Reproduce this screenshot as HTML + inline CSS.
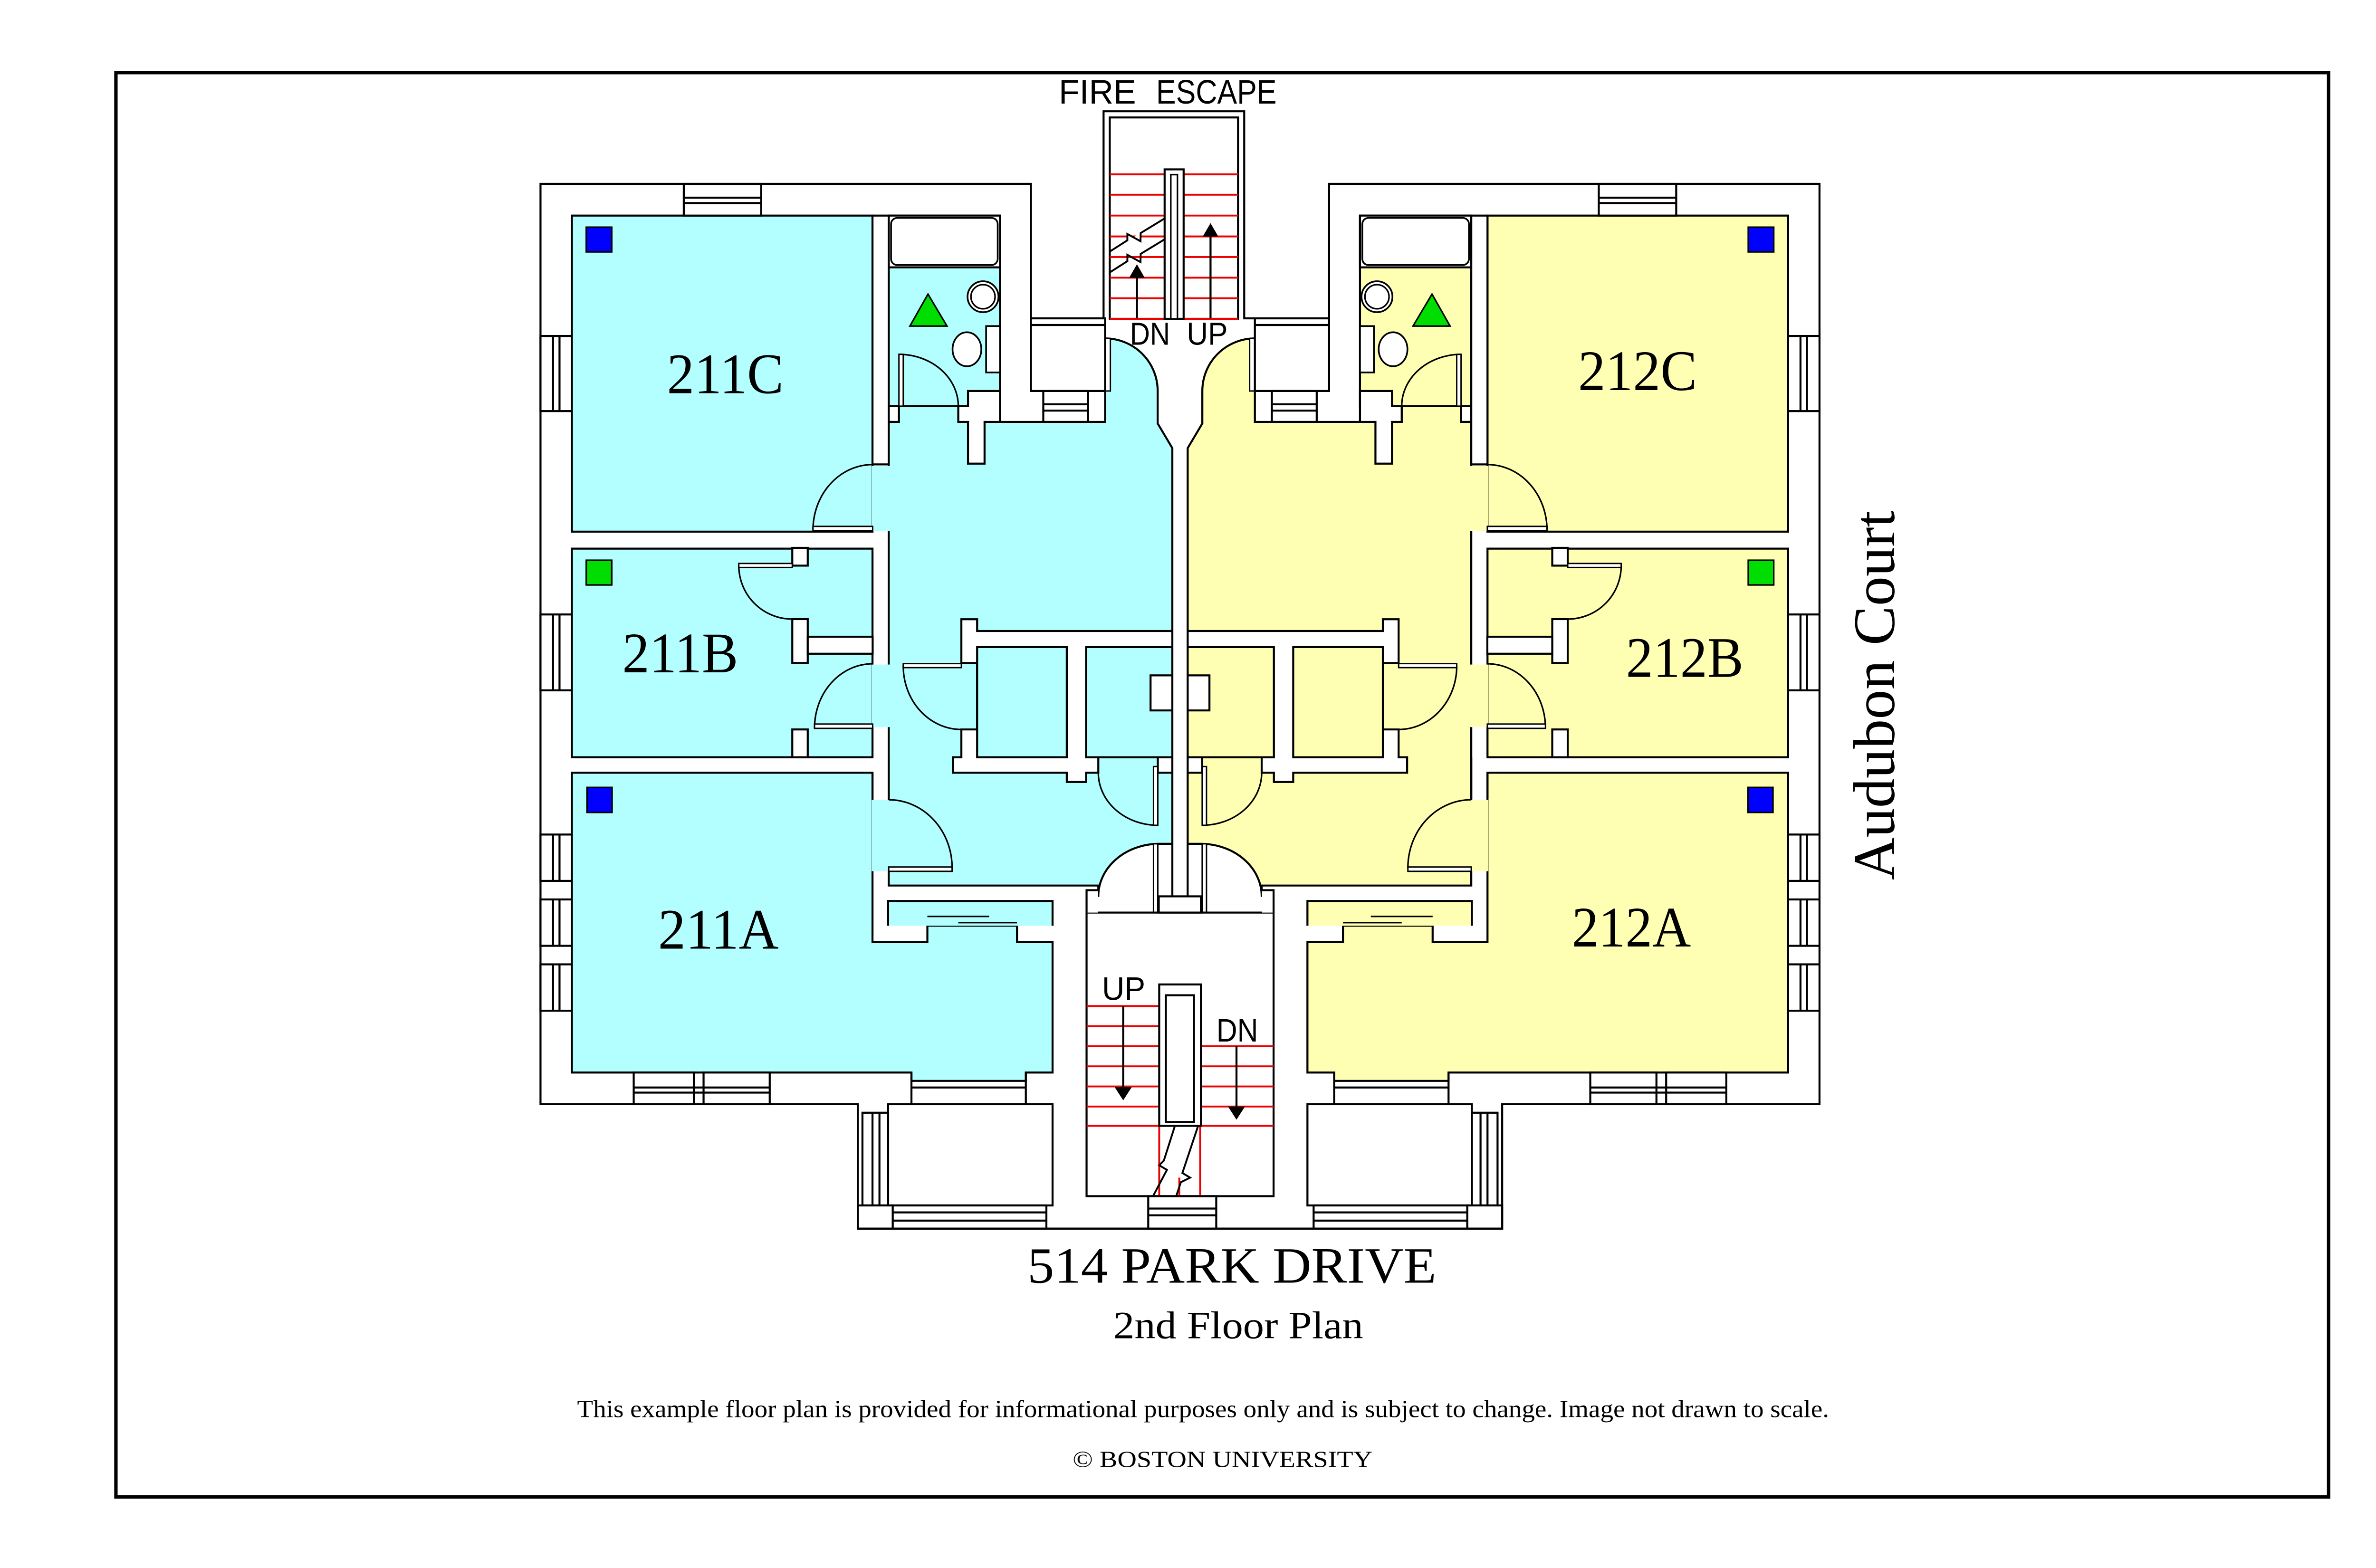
<!DOCTYPE html>
<html><head><meta charset="utf-8"><style>
html,body{margin:0;padding:0;background:#fff;}
svg{display:block;}
</style></head><body>
<svg xmlns="http://www.w3.org/2000/svg" xmlns:xlink="http://www.w3.org/1999/xlink" width="5100" height="3300" viewBox="0 0 1568 1014.6" preserveAspectRatio="none">
<defs>
<g id="unit" stroke="#000" stroke-width="1.3" stroke-linejoin="miter">
  <path fill="currentColor" d="M575,262.8 L620,262.8 L620,273 L715,273 L715,219 A34,34 0 0 1 749,253 L749,274 L758.5,290 L758.5,546 L749.1,546 A39.5,34 0 0 0 710.6,580.4 L710.6,573 L575,573 Z"/>
  <rect x="370" y="139.5" width="194.5" height="204.5" fill="currentColor"/>
  <rect x="370" y="355" width="194.5" height="135" fill="currentColor"/>
  <path fill="currentColor" d="M370,500 L564.5,500 L564.5,609.6 L600,609.6 L600,599 L658,599 L658,609.6 L681,609.6 L681,694 L663.7,694 L663.7,699.4 L589.7,699.4 L589.7,694 L370,694 Z"/>
  <path fill="currentColor" d="M574.6,599 L574.6,583 L681,583 L681,599"/>
  <line x1="600" y1="593" x2="640" y2="593" stroke-width="1"/>
  <line x1="620" y1="597" x2="658" y2="597" stroke-width="1"/>
  <rect x="575" y="139.5" width="72" height="123.3" fill="currentColor"/>
  <rect x="575" y="139.5" width="72" height="33.5" fill="#fff"/>
  <rect x="576.5" y="141" width="69" height="30.5" rx="4" fill="#fff" stroke-width="1.1"/>
  <circle cx="636" cy="192" r="10" fill="#fff" stroke-width="1.1"/>
  <circle cx="636" cy="192" r="7.8" fill="#fff" stroke-width="1"/>
  <ellipse cx="625.6" cy="226" rx="9.3" ry="11" fill="#fff" stroke-width="1.1"/>
  <rect x="638" y="211" width="9" height="30" fill="#fff" stroke-width="1.1"/>
  <polygon points="600.4,190.3 612.7,211 588.7,211" fill="#00dd00" stroke-width="1"/>
  <polygon fill="#fff" points="620,262.8 626.3,262.8 626.3,253 647,253 647,273 637,273 637,300 626.3,300 626.3,273 620,273"/>
  <rect x="575" y="262.8" width="6.6" height="10.2" fill="#fff"/>
  <rect x="564.5" y="139.5" width="10.5" height="161" fill="#fff"/>
  <polygon fill="#fff" points="622,400.7 632.2,400.7 632.2,408.3 758.5,408.3 758.5,500 749.1,500 749.1,490 710.6,490 710.6,500 702.7,500 702.7,506 690.2,506 690.2,500 616.5,500 616.5,490 622,490 622,472 632.2,472 632.2,429 622,429"/>
  <rect x="632.2" y="418.7" width="58" height="71.3" fill="currentColor"/>
  <polygon fill="currentColor" points="702.7,418.7 758.5,418.7 758.5,437 744.4,437 744.4,459.7 758.5,459.7 758.5,490 702.7,490"/>
  <rect x="512.6" y="354.5" width="10" height="11.5" fill="#fff"/>
  <rect x="512.6" y="400.6" width="10" height="28.4" fill="#fff"/>
  <rect x="522.6" y="412" width="42" height="11" fill="#fff"/>
  <rect x="512.6" y="472" width="10" height="18" fill="#fff"/>
  <rect x="564" y="301.5" width="12" height="42" fill="currentColor" stroke="none"/>
  <rect x="564" y="430" width="12" height="40.5" fill="currentColor" stroke="none"/>
  <rect x="564" y="517.7" width="12" height="46" fill="currentColor" stroke="none"/>
  <line x1="564.5" y1="500" x2="564.5" y2="517" />
  <line x1="575" y1="490" x2="575" y2="517" />
  <rect x="758.5" y="290" width="4.95" height="300" fill="#fff" stroke="none"/>
  <line x1="758.5" y1="290" x2="758.5" y2="590.5"/>
  <g fill="none" stroke-width="1">
    <path d="M526,343 A38.6,42.4 0 0 1 564.6,300.6"/>
    <path d="M527,471 A37.6,41.5 0 0 1 564.6,429.5"/>
    <path d="M478,366 A34.6,34.6 0 0 0 512.6,400.6"/>
    <path d="M575,517.5 A41,44 0 0 1 616,561.5"/>
    <path d="M581.6,229.3 A38.4,33.5 0 0 1 620,262.8"/>
    <path d="M584.4,431 A37.6,41 0 0 0 622,472"/>
    <path d="M710.6,500 A38.5,34 0 0 0 749.1,534"/>
  </g>
  <g fill="#fff" stroke-width="0.9">
    <rect x="526" y="340.6" width="38.6" height="2.8"/>
    <rect x="527" y="468.5" width="37.6" height="2.8"/>
    <rect x="478" y="364.6" width="34.6" height="2.6"/>
    <rect x="575" y="561" width="41" height="2.8"/>
    <rect x="581.6" y="229.3" width="2.8" height="33.5"/>
    <rect x="584.4" y="429.4" width="37.6" height="2.6"/>
    <rect x="746.3" y="496" width="2.8" height="38"/>
    <rect x="746.3" y="546" width="2.8" height="45"/>
    <rect x="715" y="219" width="3.4" height="34"/>
  </g>
  <rect x="379.3" y="147" width="16.5" height="16" fill="#0000ff" stroke-width="1"/>
  <rect x="379.3" y="362.5" width="16.5" height="16" fill="#00dd00" stroke-width="1"/>
  <rect x="379.8" y="509.5" width="16.2" height="16.2" fill="#0000ff" stroke-width="1"/>
  <rect x="667" y="206" width="48" height="47" fill="#fff"/>
  <line x1="667" y1="210.3" x2="715" y2="210.3"/>
  <rect x="675" y="253" width="29" height="20" fill="#fff"/>
  <line x1="675" y1="261.6" x2="704" y2="261.6"/><line x1="675" y1="265.7" x2="704" y2="265.7"/>
  <g fill="#fff">
    <rect x="442.4" y="119" width="50.1" height="20.5"/>
    <rect x="349.7" y="217.4" width="20.3" height="48.6"/>
    <rect x="349.7" y="397.6" width="20.3" height="49.1"/>
    <rect x="349.7" y="540" width="20.3" height="30"/>
    <rect x="349.7" y="582" width="20.3" height="30"/>
    <rect x="349.7" y="624" width="20.3" height="30"/>
    <rect x="410" y="694" width="38.9" height="20.5"/>
    <rect x="455.2" y="694" width="42.8" height="20.5"/>
  </g>
  <g fill="none">
    <line x1="442.4" y1="127.9" x2="492.5" y2="127.9"/><line x1="442.4" y1="131.4" x2="492.5" y2="131.4"/>
    <path d="M357.8,217.4V266M362,217.4V266M357.8,397.6V446.7M362,397.6V446.7M357.8,540V570M362,540V570M357.8,582V612M362,582V612M357.8,624V654M362,624V654"/>
    <path d="M410,703.7H498M410,707H498"/>
    <path d="M589.7,694V714.5M663.7,694V714.5M589.7,703.7H663.7"/>
  </g>
  <rect x="574.6" y="714.5" width="106.4" height="65.5" fill="#fff"/>
  <rect x="558" y="720" width="16.6" height="60" fill="#fff"/>
  <path d="M564.5,720V780M569,720V780" fill="none"/>
  <rect x="555" y="780" width="22.6" height="15" fill="#fff"/>
  <rect x="577.6" y="780" width="99.4" height="15" fill="#fff"/>
  <path d="M577.6,784.5H677M577.6,789.8H677" fill="none"/>
</g>
</defs>

<rect x="75" y="47" width="1431.6" height="921.6" fill="none" stroke="#000" stroke-width="2.2"/>

<polygon fill="#fff" stroke="#000" stroke-width="1.3" points="349.7,119 667,119 667,206 714,206 714,72 805,72 805,206 859.9,206 859.9,119 1177.2,119 1177.2,714.5 971.9,714.5 971.9,795 555,795 555,714.5 349.7,714.5"/>

<use href="#unit" xlink:href="#unit" color="#b3ffff"/>
<use href="#unit" xlink:href="#unit" color="#ffffb3" transform="matrix(-1 0 0 1 1526.9 0)"/>

<g stroke="#000" stroke-width="1.3">
  <rect x="718" y="76" width="83" height="130.3" fill="#fff"/>
  <g stroke="#ee0000" stroke-width="1.2">
    <path d="M718,112.8H753.5M718,126H753.5M718,139.5H753.5M718,153H753.5M718,166.3H753.5M718,179.7H753.5M718,193H753.5M718,206.3H753.5"/>
    <path d="M765.8,112.8H801M765.8,126H801M765.8,139.5H801M765.8,153H801M765.8,166.3H801M765.8,179.7H801M765.8,193H801M765.8,206.3H801"/>
  </g>
  <rect x="753.5" y="109.6" width="12.3" height="96.7" fill="#fff"/>
  <rect x="757.5" y="113" width="4.3" height="93.3" fill="#fff" stroke-width="1"/>
  <path d="M718.3,162.6 L729.4,155.5 L729.4,151.4 L737.9,156.1 L738,150.8 L753.1,141.6" fill="#fff" stroke-width="1.2"/>
  <path d="M718.3,176.1 L729.4,169 L729.4,164.9 L737.9,169.6 L738,164.3 L753.1,155.1" fill="none" stroke-width="1.2"/>
  <line x1="735.6" y1="179" x2="735.6" y2="206"/>
  <polygon points="735.6,171 740.6,179.7 730.6,179.7" fill="#000" stroke="none"/>
  <line x1="783.2" y1="152" x2="783.2" y2="206"/>
  <polygon points="783.2,144.4 788.2,153 778.2,153" fill="#000" stroke="none"/>
</g>

<g stroke="#000" stroke-width="1.3">
  <rect x="703" y="590.5" width="121" height="183.5" fill="#fff"/>
  <rect x="749.7" y="580" width="27.3" height="10.5" fill="#fff"/>
  <rect x="703" y="576" width="7.5" height="14.5" fill="#fff" stroke="none"/>
  <rect x="816.5" y="576" width="7.5" height="14.5" fill="#fff" stroke="none"/>
  <path d="M703,590.5V576H710.6M824,590.5V576H816.3" fill="none"/>
  <g stroke="#ee0000" stroke-width="1.2">
    <path d="M703,651H750M703,664H750M703,677H750M703,690H750M703,703H750M703,716H750M703,728.5H824"/>
    <path d="M777,677H824M777,690H824M777,703H824M777,716H824"/>
    <path d="M750,728.5V774M776.5,728.5V774M763,762V774"/>
  </g>
  <rect x="750" y="637" width="27" height="91.5" fill="#fff"/>
  <rect x="754.3" y="644" width="18.2" height="82" fill="#fff"/>
  <path d="M760,729 L753,751 L750,754 L755,757 L746,774 M775,729 L765,759 L770,762 L764,765 L761,774" fill="none" stroke-width="1.2"/>
  <line x1="726.7" y1="651" x2="726.7" y2="705"/>
  <polygon points="726.7,712 721.2,703.5 732.2,703.5" fill="#000" stroke="none"/>
  <line x1="800" y1="677" x2="800" y2="717"/>
  <polygon points="800,724.5 794.5,716 805.5,716" fill="#000" stroke="none"/>
  <rect x="742.9" y="774" width="44" height="21" fill="#fff"/>
  <path d="M742.9,782H786.9M742.9,786.4H786.9" fill="none"/>
  <line x1="555" y1="795" x2="971.9" y2="795"/>
</g>

<g font-family="'Liberation Sans', sans-serif" fill="#000">
  <text x="685" y="67" font-size="22" textLength="50" lengthAdjust="spacingAndGlyphs">FIRE</text>
  <text x="748" y="67" font-size="22" textLength="78" lengthAdjust="spacingAndGlyphs">ESCAPE</text>
  <text x="731" y="223" font-size="20.5" textLength="26" lengthAdjust="spacingAndGlyphs">DN</text>
  <text x="767.8" y="223" font-size="20.5" textLength="26.5" lengthAdjust="spacingAndGlyphs">UP</text>
  <text x="713" y="647" font-size="21" textLength="28" lengthAdjust="spacingAndGlyphs">UP</text>
  <text x="787" y="674" font-size="21" textLength="27" lengthAdjust="spacingAndGlyphs">DN</text>
</g>
<g font-family="'Liberation Serif', serif" fill="#000">
  <text x="431.5" y="254.4" font-size="37" textLength="75.5" lengthAdjust="spacingAndGlyphs">211C</text>
  <text x="402.6" y="435" font-size="37" textLength="75" lengthAdjust="spacingAndGlyphs">211B</text>
  <text x="425.8" y="613.8" font-size="37" textLength="78" lengthAdjust="spacingAndGlyphs">211A</text>
  <text x="1021" y="252.5" font-size="37" textLength="77" lengthAdjust="spacingAndGlyphs">212C</text>
  <text x="1052" y="438" font-size="37" textLength="76" lengthAdjust="spacingAndGlyphs">212B</text>
  <text x="1017" y="612.5" font-size="37" textLength="77" lengthAdjust="spacingAndGlyphs">212A</text>
  <text transform="translate(1225.5,450) rotate(-90)" text-anchor="middle" font-size="38" textLength="239" lengthAdjust="spacingAndGlyphs">Audubon Court</text>
  <text x="664.7" y="830" font-size="33" textLength="264.6" lengthAdjust="spacingAndGlyphs">514 PARK DRIVE</text>
  <text x="720.4" y="866" font-size="25" textLength="161.6" lengthAdjust="spacingAndGlyphs">2nd Floor Plan</text>
  <text x="373.4" y="917" font-size="16" textLength="810" lengthAdjust="spacingAndGlyphs">This example floor plan is provided for informational purposes only and is subject to change. Image not drawn to scale.</text>
  <text x="694" y="949.3" font-size="15" textLength="194" lengthAdjust="spacingAndGlyphs">© BOSTON UNIVERSITY</text>
</g>
</svg>
</body></html>
